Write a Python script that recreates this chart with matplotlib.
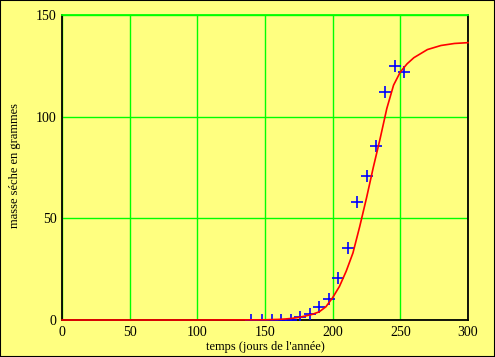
import matplotlib
matplotlib.use("Agg")
import matplotlib.pyplot as plt
from matplotlib.patches import Rectangle

# mesures (jour, masse seche)
jours = [140, 148, 155, 162, 169, 176, 183, 190, 197, 204, 211, 218, 225, 232, 239, 246, 253]
masse = [0, 0, 0, 0, 0, 1.6, 3.0, 6.2, 10.2, 20.7, 35.4, 58.0, 71.0, 85.6, 112, 125, 122]

# courbe ajustee
t_courbe = [0, 50, 100, 150, 160, 165, 170, 175, 180, 185, 190, 195, 200, 205, 210, 215,
            220, 225, 230, 235, 240, 245, 250, 255, 260, 265, 270, 280, 290, 300]
m_courbe = [0, 0, 0, 0.1, 0.3, 0.5, 0.8, 1.3, 2.0, 2.8, 4.0, 6.5, 11.0, 16.5, 24.0, 33.0,
            46.0, 60.0, 75.0, 89.0, 104.0, 115.5, 122.0, 126.0, 129.0, 131.0, 133.0, 135.0, 136.0, 136.4]

bg = '#ffff80'
plt.rcParams['font.family'] = ['Liberation Serif', 'DejaVu Serif']

fig = plt.figure(figsize=(4.95, 3.57), dpi=100, facecolor=bg)
ax = fig.add_axes([62/495, 1 - 320/357, 406/495, 305/357])
ax.set_facecolor(bg)

ax.plot(jours, masse, '+', color='#0000ff', markersize=9, markeredgewidth=1.2, zorder=3)
ax.plot(t_courbe, m_courbe, '-', color='#ff0000', linewidth=1.2, zorder=4, clip_on=False)

ax.set_xlim(0, 300)
ax.set_ylim(0, 150)
ax.set_xticks([0, 50, 100, 150, 200, 250, 300])
ax.set_yticks([0, 50, 100, 150])
ax.grid(True, color='#00ff00', linewidth=1.0)
ax.tick_params(length=0, labelsize=10, pad=4)
for s in ['left', 'bottom', 'right']:
    ax.spines[s].set_color('black')
    ax.spines[s].set_linewidth(1.3)
ax.spines['top'].set_color('#00ff00')
ax.spines['top'].set_linewidth(1.3)

# titres des axes places a la main
fig.text(265/495, 1 - 347/357, "temps (jours de l'année)", fontsize=9,
         ha='center', va='center')
fig.text(15/495, 1 - 166/357, "masse séche en grammes", fontsize=9,
         ha='center', va='center', rotation=90)

# cadre noir autour de la figure
fig.patches.append(Rectangle((0, 0), 1, 1, transform=fig.transFigure, fill=False,
                             edgecolor='black', linewidth=1.5))

fig.savefig('out.png', dpi=100, facecolor=bg)
